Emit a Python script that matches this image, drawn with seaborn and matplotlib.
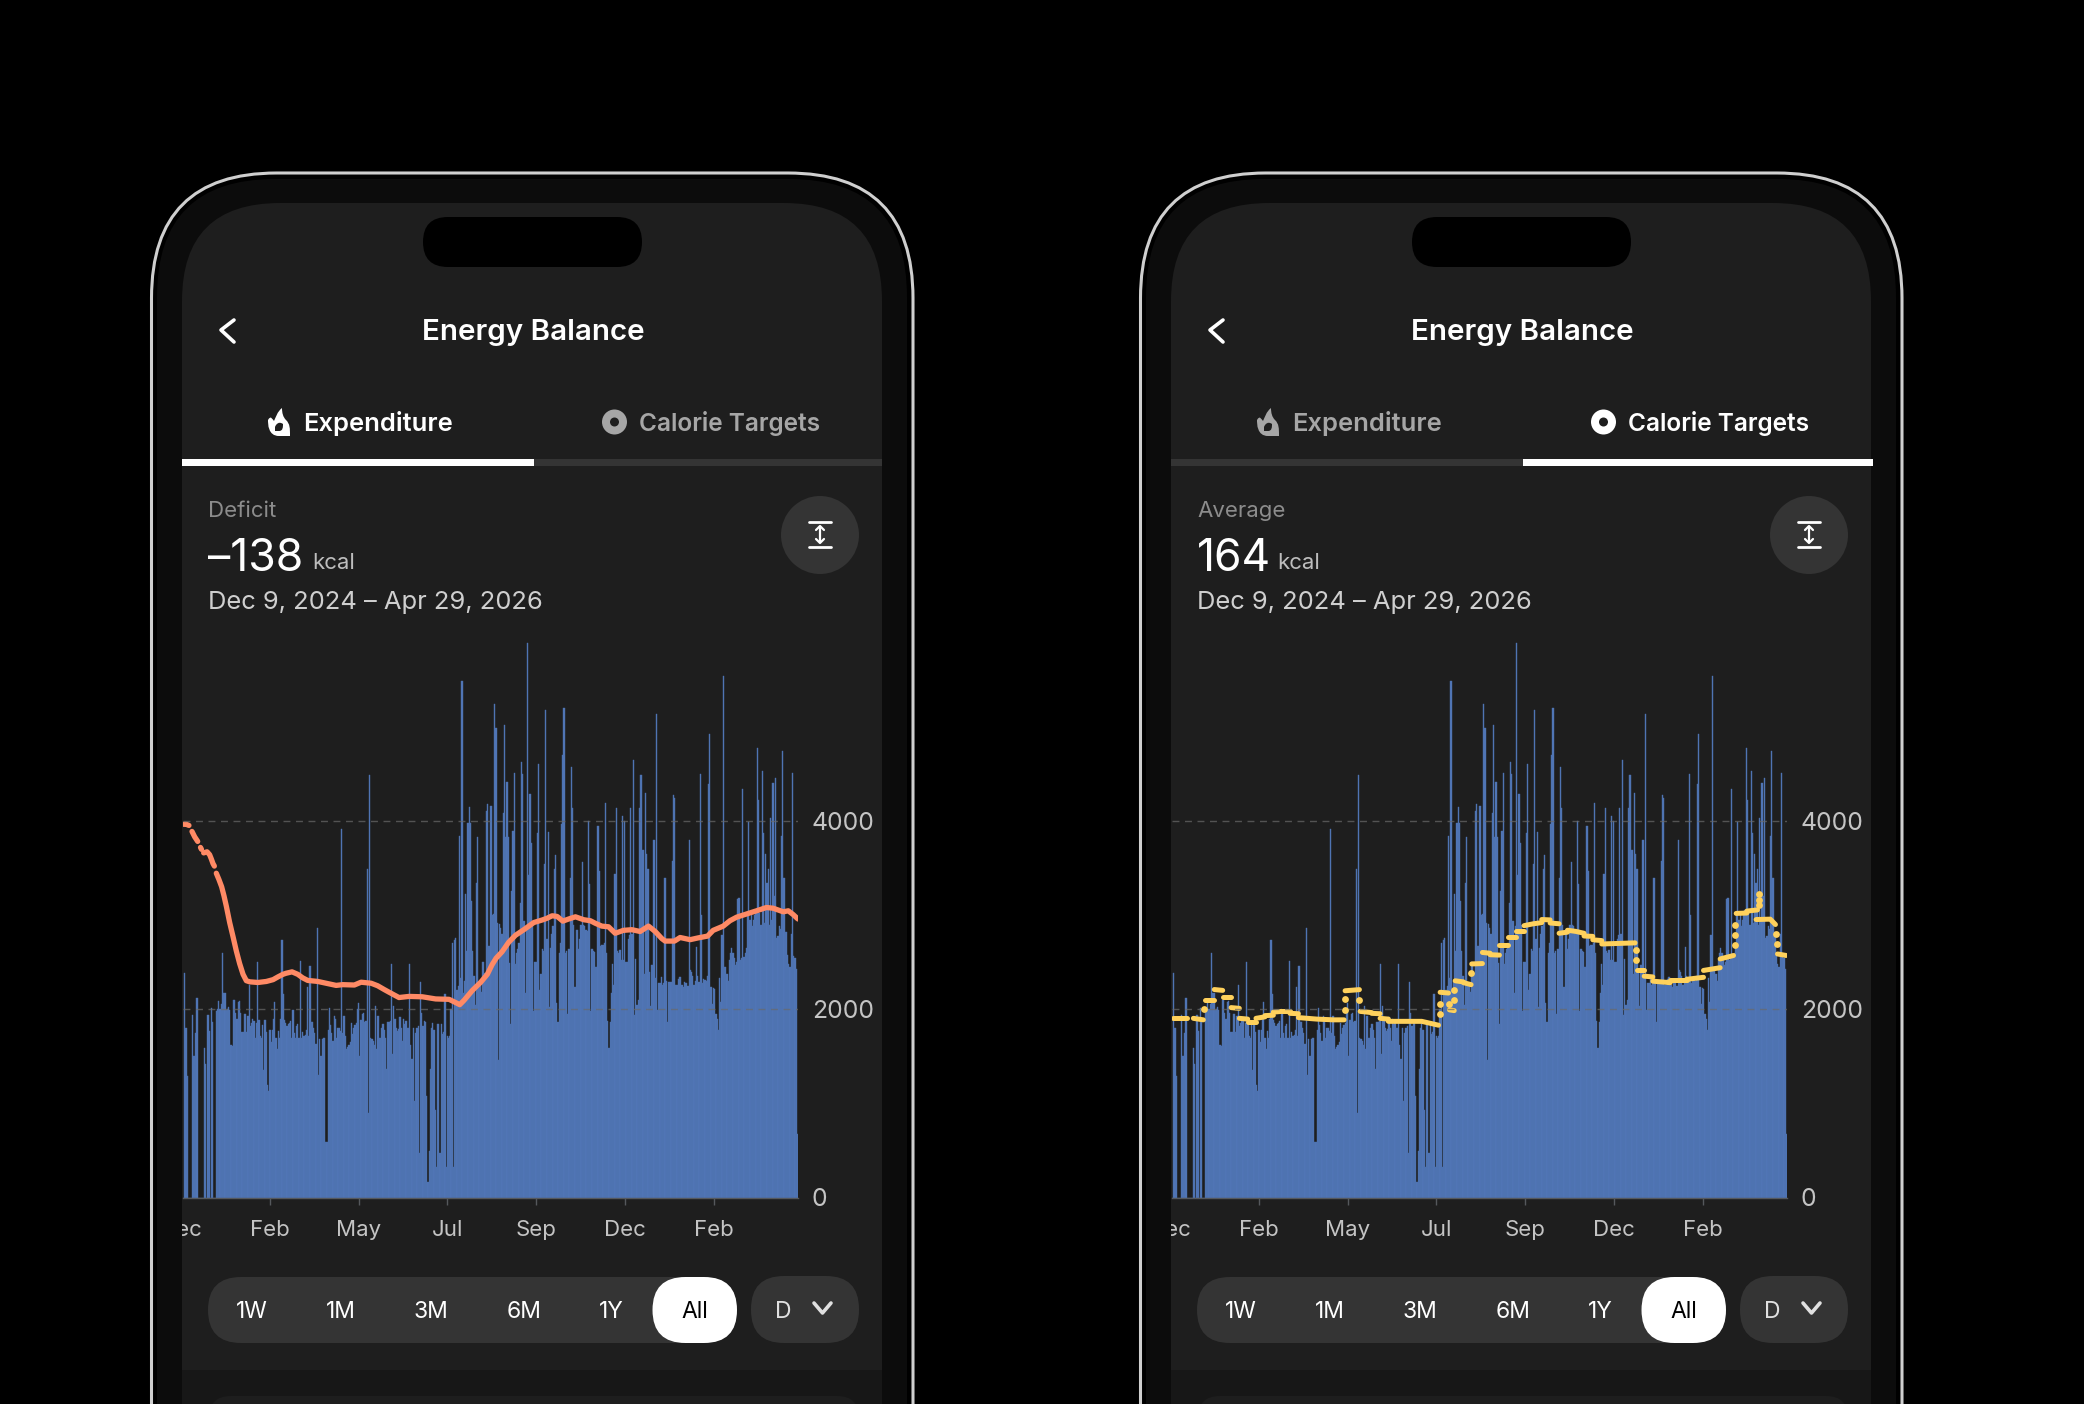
import numpy as np
import pandas as pd
import matplotlib
matplotlib.use('Agg')
import matplotlib.pyplot as plt
import seaborn as sns
from matplotlib.patches import Circle, FancyBboxPatch, PathPatch, Rectangle
from matplotlib.path import Path
from matplotlib.transforms import Bbox, TransformedBbox

# daily energy values, left to right
daily_kcal = [
    0,2390,1800,1290,0,0,0,1935,1500,1500,1745,2125,0,0,0,0,0,1590,1420,0,
    1935,1765,0,2010,1867,0,0,1980,2000,2090,2000,2060,2600,2170,2170,1990,2000,2020,1990,1620,
    1610,2100,2100,1960,1900,2080,2090,1960,1760,1760,1950,1950,1760,1930,2260,1820,1850,1900,1880,1700,
    1850,2500,1890,1720,1690,1830,1350,1890,1760,1200,1130,1780,1650,1780,1900,2080,1700,1580,1770,1700,
    1900,2740,2160,1890,1850,1820,1840,1850,1880,1700,1990,1750,1700,1820,1840,1700,2516,1700,1760,1720,
    1730,1780,2240,1720,2460,1860,1860,1800,1750,1630,2865,1300,1680,1500,1680,1700,1700,590,590,1780,
    2010,1830,1750,1660,1930,1900,1700,1800,1800,1770,3917,1750,1930,1720,1580,1600,1620,1650,1850,1740,
    1800,1830,1850,2000,2070,1500,1890,1950,1960,1860,1880,3490,900,4485,1700,1680,1660,1620,2030,1580,
    1930,1700,1700,1800,1840,1780,1700,1370,1870,1870,1880,2485,1520,2030,1900,1800,1770,1790,1920,1800,
    1660,1900,1840,1880,1800,1800,2485,1620,1470,1800,1025,1750,1800,1820,475,2295,1960,1820,1880,1870,
    1080,170,490,1366,1800,1850,1780,930,320,1840,1840,475,1840,1740,1760,2160,320,1720,1700,1720,
    2000,2700,320,2740,2760,2200,2250,3840,2330,5490,2170,2300,3230,2620,3985,4155,3985,3150,2620,2350,
    2050,3340,3830,2280,2260,2180,2500,2500,2390,4105,4180,2675,2675,4165,3000,3015,5240,4990,2920,1460,
    2910,2860,2800,4090,5020,3830,4420,3830,2490,1840,3260,3900,4510,2485,2600,2640,2700,3130,4630,4500,
    2940,2170,2880,5890,3430,4290,3765,2900,1980,2500,2500,3870,4610,2200,2370,2640,2620,3540,5180,2750,
    3880,2020,2650,2800,2880,3490,3635,2070,1860,2600,2700,3965,4705,5200,2600,2620,1955,2640,3400,4580,
    4135,2900,2240,2840,2840,2640,2750,2900,3567,2900,2880,2840,2830,4000,3330,1980,2640,2620,2610,2450,
    2450,3950,3470,2675,2680,2680,2700,4190,2600,1880,1590,1870,2170,2485,2260,3435,4135,2620,2600,2630,
    2520,4050,2520,4000,2500,2500,2750,2790,4135,2800,4650,1935,2530,2050,2100,4135,4490,4490,3690,2380,
    4300,3650,3490,2400,2030,2470,2470,3795,2330,5135,1990,2280,2280,2345,2260,2280,3400,2300,1865,2285,
    2285,2290,3575,4280,4250,2260,2260,2320,2340,2340,2260,2240,2290,2280,2280,2250,3800,2420,2400,2350,
    2260,2300,2660,2350,2290,4500,3000,2280,2320,2310,2300,2350,4390,4925,2240,2060,2230,2220,1955,1900,
    1785,2330,2080,2790,5540,2450,2450,2370,2300,2520,2600,2655,2600,2550,2470,2500,3170,3180,2520,2540,
    4345,2560,2600,2655,3000,3990,2950,3000,2880,2950,3000,3050,4780,4220,3020,2900,4535,3870,2920,3655,
    3340,3490,2900,4030,2950,4410,3205,4460,2760,2780,2880,2850,3840,4750,3400,2820,2820,2580,2480,2450,
    2800,4510,2570,2540,2430,680,
]

# expenditure trend, nan marks a break in the line
nan = float('nan')
trend_days = [
    0.5,2.7,4.9,nan, 7.4,9.6,12.1,nan, 14.4,15.2,nan,
    17,19.8,21.9,23.3,24.7,25.8,nan,
    27.4,29.6,31.8,33.7,35.7,38.4,41.2,43.9,46.6,49.4,52.1,54.9,61.7,68.6,74.1,78.2,82.3,
    84.8,89.7,94.4,98.5,102.6,110.9,117.7,126,131.4,141,146.5,154.8,160.2,165.7,
    169.5,177.7,186,196.9,207.9,218.9,223,227.7,231.2,238.1,245,250.4,254.3,
    257.6,262.5,268,273.5,280.4,284.5,288.6,295.5,299.6,303.7,307.8,312.5,317.4,322.9,329.7,335.2,
    339.1,344.6,350.1,355.6,362.4,369.3,376.1,383,388.5,394,396.7,404.4,409,417.3,
    423.9,431.6,436.2,444.5,450,455.5,463.7,471.9,480.1,485.6,493.9,498,502.1,505.9,
]
trend_kcal = [
    3966,3966,3954,nan, 3890,3833,3784,nan, 3720,3700,nan,
    3662,3674,3643,3598,3548,3522,nan,
    3446,3378,3302,3207,3093,2922,2770,2619,2486,2372,2304,2292,2285,2296,2315,2345,2372,
    2383,2398,2372,2334,2307,2296,2277,2254,2262,2258,2288,2277,2250,2209,
    2182,2125,2137,2133,2110,2106,2080,2049,2095,2201,2288,2372,2474,
    2543,2611,2713,2786,2846,2884,2922,2949,2968,2994,2987,2937,2960,2983,2952,2941,
    2915,2884,2877,2808,2839,2846,2827,2884,2827,2751,2725,2725,2763,2740,
    2759,2778,2839,2884,2941,2979,3013,3047,3082,3074,3036,3047,3006,2960,
]

# calorie target steps
target_days = [
    1.1,12.6,nan, 17.6,25.8,nan, 27.2,34.8,nan, 34.8,41.7,nan, 41.7,48.6,nan, 48.6,55.4,nan,
    55.4,62.3,nan, 62.8,69.1,nan, 69.1,76.5,nan, 76.5,83.4,nan, 83.4,90.3,nan, 90.3,97.1,nan,
    97.1,104,nan, 104,119,132.8,141.6,nan, 142.4,154.2,nan, 154.8,164.3,nan, 164.3,171.2,nan,
    171.2,178,nan, 178,205.5,219.3,nan, 220.6,227.5,nan, 228.3,232.2,nan, 233,239.8,nan,
    239.8,246.1,nan, 246.6,255.4,nan, 255.4,261.7,nan, 261.7,269.4,nan, 269.4,276.3,nan,
    276.3,283.1,nan, 283.1,289.7,nan, 289.7,297.4,304.2,nan, 304.2,311.1,nan, 311.1,318.5,nan,
    318.5,325.4,nan, 325.4,332.2,339,nan, 339,346.2,nan, 346.2,353.6,nan, 353.6,381,nan,
    382.4,388.5,nan, 388.5,395.6,nan, 395.6,409.9,nan, 409.9,423.6,nan, 423.6,437.3,nan,
    437.3,451,nan, 451,462,nan, 464.2,473,nan, 473,481.7,nan, 480.6,492.2,496.5,nan, 498.2,505.3,
]
target_kcal = [
    1912,1912,nan, 1904,1888,nan, 2100,2100,nan, 2210,2201,nan, 2128,2128,nan, 2018,2010,nan,
    1904,1896,nan, 1864,1864,nan, 1904,1920,nan, 1933,1937,nan, 1970,1978,nan, 1986,1986,nan,
    1957,1953,nan, 1912,1896,1888,1888,nan, 2197,2209,nan, 1978,1965,nan, 1957,1953,nan,
    1904,1896,nan, 1872,1872,1831,nan, 2181,2173,nan, 1994,1986,nan, 2303,2291,nan,
    2283,2262,nan, 2482,2486,nan, 2604,2596,nan, 2580,2576,nan, 2686,2686,nan,
    2771,2771,nan, 2832,2832,nan, 2889,2909,2921,nan, 2954,2950,nan, 2917,2909,nan,
    2808,2820,nan, 2840,2828,2808,nan, 2779,2775,nan, 2739,2730,nan, 2694,2706,nan,
    2413,2413,nan, 2352,2344,nan, 2299,2283,nan, 2307,2307,nan, 2319,2340,nan,
    2413,2442,nan, 2535,2572,nan, 3019,3023,nan, 3044,3056,nan, 2954,2958,2901,nan, 2588,2572,
]
# loose dots where the target jumps
jump_days = [26.3,142.4,142.4,154.2,220.3,220.3,227.5,232.2,232.2,246.1,381.9,381.9,
             463.4,463.4,463.4,482.6,482.6,482.6,497.1,497.6]
jump_kcal = [2006,1994,2108,2100,1945,2055,2059,2100,2209,2384,2629,2523,
             2686,2787,2901,3105,3166,3223,2800,2690]

month_labels = ['Feb', 'May', 'Jul', 'Sep', 'Dec', 'Feb']
month_ticks = [71.6, 144.6, 217.6, 290.6, 363.6, 436.6]
y_ticks = [0, 2000, 4000]
range_labels = ['1W', '1M', '3M', '6M', '1Y', 'All']
range_centers = [252, 341, 431, 524, 611, 695]

BAR = '#5277B7'
BG = '#1E1E1E'
PILL = '#343434'
W, H = 2084, 1404

sns.set_theme(style='dark')
plt.rcParams['font.family'] = ['Inter', 'DejaVu Sans']

fig = plt.figure(figsize=(W / 100, H / 100), dpi=100, facecolor='black')
page = fig.add_axes([0, 0, 1, 1], zorder=0)
page.set_xlim(0, W)
page.set_ylim(H, 0)
page.axis('off')


def rounded(x0, y0, x1, y1, r, **kw):
    box = FancyBboxPatch((x0, y0), x1 - x0, y1 - y0, boxstyle=f'round,pad=0,rounding_size={r}',
                         linewidth=kw.pop('lw', 0), **kw)
    page.add_patch(box)
    return box


def label(x, y, s, size, color='white', ha='left', weight='normal'):
    return page.text(x, y, s, fontsize=size, color=color, ha=ha, va='center', fontweight=weight)


def broken_line(ax, days, kcal, color, width):
    df = pd.DataFrame({'day': days, 'kcal': kcal})
    df['seg'] = df['kcal'].isna().cumsum()
    sns.lineplot(data=df.dropna(), x='day', y='kcal', units='seg', estimator=None, sort=False,
                 color=color, linewidth=width, solid_capstyle='round', solid_joinstyle='round',
                 ax=ax, legend=False)


def flame(dx, color):
    verts = [(279, 436), (268, 436), (268, 424), (268, 420), (271, 415), (272, 419), (274, 421),
             (276, 417), (277, 412), (282, 408), (282, 413), (283, 417), (286, 420), (290, 424),
             (290, 428), (290, 436), (279, 436), (279, 436),
             (279, 431), (283, 431), (283, 427), (283, 424), (279, 421), (276, 424), (275, 427),
             (275, 431), (279, 431), (279, 431)]
    codes = [Path.MOVETO] + [Path.CURVE4] * 15 + [Path.LINETO, Path.CLOSEPOLY] + \
            [Path.MOVETO] + [Path.CURVE4] * 6 + [Path.LINETO, Path.LINETO, Path.CLOSEPOLY]
    verts = [(x + dx, y) for x, y in verts]
    page.add_patch(PathPatch(Path(verts, codes), fc=color, ec='none'))


def phone(dx, burn_active, stat_name, stat_value, stat_x, line_fn):
    rounded(151.5 + dx, 173, 913 + dx, 1560, 125, fc='black', ec='#CFCFCF', lw=2.2)
    rounded(157 + dx, 179, 907 + dx, 1560, 118, fc='#0C0C0C')
    screen = rounded(182 + dx, 203, 882 + dx, 1560, 98, fc=BG)
    band = Rectangle((182 + dx, 1370), 700, 40, fc='#171717', ec='none')
    page.add_patch(band)
    band.set_clip_path(screen)
    rounded(209 + dx, 1396, 859 + dx, 1500, 22, fc=BG)
    rounded(423 + dx, 217, 642 + dx, 267, 25, fc='black')

    page.plot([234 + dx, 221 + dx, 234 + dx], [320, 330, 342], color='white', lw=2.6,
              solid_capstyle='round', solid_joinstyle='round')
    label(533 + dx, 333, 'Energy Balance', 21.3, ha='center', weight='semibold')

    on, off = 'white', '#A6A6A6'
    flame(dx, on if burn_active else off)
    label(303 + dx, 424, 'Expenditure', 18.4, on if burn_active else off, weight='semibold')
    ring = off if burn_active else on
    page.add_patch(Circle((614.5 + dx, 422), 12.5, fc=ring, ec='none'))
    page.add_patch(Circle((614.5 + dx, 422), 4.5, fc=BG, ec='none'))
    label(639 + dx, 424, 'Calorie Targets', 17.6, ring, weight='semibold')
    page.add_patch(Rectangle((182 + dx, 459), 700, 7, fc=PILL, ec='none'))
    white_x = 182 if burn_active else 534
    page.add_patch(Rectangle((white_x + dx, 459), 350 if not burn_active else 352, 7, fc='white', ec='none'))

    label(208 + dx, 511, stat_name, 16, '#8C8C8C')
    label(208 + dx, 559, stat_value, 32)
    label(stat_x + dx, 563, 'kcal', 16, '#BDBDBD')
    label(208 + dx, 602, 'Dec 9, 2024 – Apr 29, 2026', 18.4, '#CFCFCF')

    page.add_patch(Circle((820 + dx, 535), 39, fc=PILL, ec='none'))
    page.plot([809 + dx, 831 + dx], [522, 522], color='white', lw=2)
    page.plot([809 + dx, 831 + dx], [547, 547], color='white', lw=2)
    page.plot([820 + dx, 820 + dx], [527, 542], color='white', lw=1.6)
    page.plot([816 + dx, 820 + dx, 824 + dx], [530, 526, 530], color='white', lw=1.6)
    page.plot([816 + dx, 820 + dx, 824 + dx], [539, 543, 539], color='white', lw=1.6)

    # range selector
    rounded(208 + dx, 1277, 737 + dx, 1343, 33, fc=PILL)
    rounded(652.5 + dx, 1277, 737 + dx, 1343, 33, fc='white')
    rounded(751 + dx, 1276, 859 + dx, 1343, 33, fc=PILL)
    for name, cx in zip(range_labels, range_centers):
        label(cx + dx, 1311.5, name, 16.5, 'black' if name == 'All' else 'white', ha='center')
    label(783 + dx, 1311.5, 'D', 16.5, '#E0E0E0', ha='center')
    page.plot([814 + dx, 822.5 + dx, 831 + dx], [1303, 1313, 1303], color='#E0E0E0', lw=2.6,
              solid_capstyle='round', solid_joinstyle='round')

    # chart, placed in pixels of the page
    left, right, bottom = 183 + dx, 798 + dx, 1197.5
    y_top = 5924
    top = bottom - y_top * 0.0941
    ax = fig.add_axes([left / W, 1 - bottom / H, (right - left) / W, (bottom - top) / H], zorder=2)
    ax.set_facecolor('none')
    df = pd.DataFrame({'day': np.arange(len(daily_kcal)) + 0.5, 'kcal': daily_kcal})
    sns.barplot(data=df, x='day', y='kcal', native_scale=True, width=1, color=BAR, saturation=1,
                linewidth=0.3, edgecolor='#4C70AE', ax=ax)
    for v in y_ticks[1:]:
        ax.axhline(v, color='#6A6A6A', lw=1, ls=(0, (5, 4)), alpha=0.7, zorder=3)
    line_fn(ax)
    ax.set_xlim(0, len(daily_kcal))
    ax.set_ylim(0, y_top)
    ax.set_xlabel('')
    ax.set_ylabel('')
    ax.grid(False)
    for side in ['top', 'left', 'right']:
        ax.spines[side].set_visible(False)
    ax.spines['bottom'].set_color('#55585C')
    ax.spines['bottom'].set_linewidth(1)
    ax.set_xticks(month_ticks, month_labels)
    ax.set_yticks(y_ticks, [str(v) for v in y_ticks])
    ax.yaxis.tick_right()
    ax.tick_params(axis='x', length=5, width=1, color='#55585C', labelcolor='#C4C4C4',
                   labelsize=16, pad=11, bottom=True)
    ax.tick_params(axis='y', length=0, labelcolor='#C4C4C4', labelsize=17.8, pad=10)
    # first month label sits half off the screen, text only clips to a box
    dec = label(181.3 + dx, 1230.5, 'Dec', 16, '#C4C4C4', ha='center')
    dec.set_clip_on(True)
    dec.set_clip_box(TransformedBbox(Bbox([[182 + dx, 1210], [300 + dx, 1250]]), page.transData))
    return ax


def orange_line(ax):
    broken_line(ax, trend_days, trend_kcal, '#FF8A65', 3.8)


def yellow_line(ax):
    broken_line(ax, target_days, target_kcal, '#FFD15C', 3.6)
    sns.scatterplot(x=jump_days, y=jump_kcal, color='#FFD15C', s=24, linewidth=0, ax=ax, zorder=5)


phone(0, True, 'Deficit', '–138', 312, orange_line)
phone(989, False, 'Average', '164', 1277 - 989, yellow_line)

fig.savefig('out.png', dpi=100, facecolor='black')
